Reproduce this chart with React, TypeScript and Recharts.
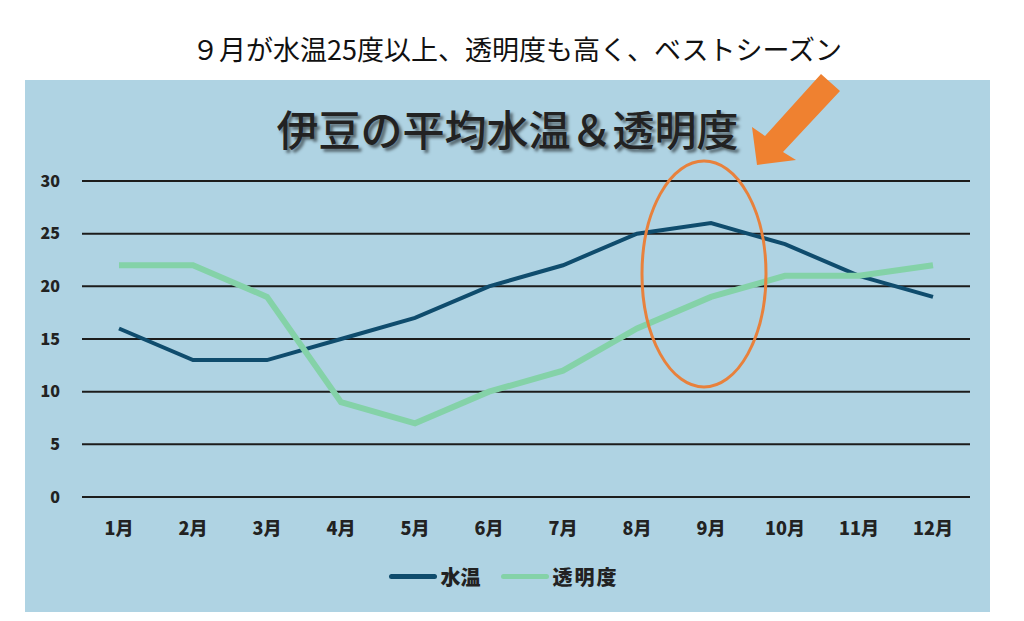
import React from "react";
import {
  LineChart,
  Line,
  XAxis,
  YAxis,
  CartesianGrid,
  Legend,
} from "recharts";

const months = ["1月", "2月", "3月", "4月", "5月", "6月", "7月", "8月", "9月", "10月", "11月", "12月"];
const waterTemp = [16, 13, 13, 15, 17, 20, 22, 25, 26, 24, 21, 19];
const clarity = [22, 22, 19, 9, 7, 10, 12, 16, 19, 21, 21, 22];
const yTicks = [0, 5, 10, 15, 20, 25, 30];

const data = months.map((m, i) => ({ month: m, 水温: waterTemp[i], 透明度: clarity[i] }));

const FONT = "'Noto Sans CJK JP', 'Noto Sans', sans-serif";
const BLUE = "#0f4c6d";
const GREEN = "#84d2a8";

const LegendContent = () => (
  <div
    style={{
      display: "flex",
      justifyContent: "center",
      alignItems: "center",
      height: 75,
      paddingTop: 4,
      paddingLeft: 12,
      boxSizing: "border-box",
      fontFamily: FONT,
      fontWeight: 900,
      fontSize: 20,
      color: "#222",
    }}
  >
    <span style={{ display: "inline-block", width: 48, height: 5, borderRadius: 3, background: BLUE }} />
    <span style={{ marginLeft: 4, marginRight: 20 }}>水温</span>
    <span style={{ display: "inline-block", width: 48, height: 5, borderRadius: 3, background: GREEN }} />
    <span style={{ marginLeft: 4, letterSpacing: 2 }}>透明度</span>
  </div>
);

export default function App() {
  return (
    <div
      style={{
        position: "absolute",
        left: 0,
        top: 0,
        width: 1024,
        height: 621,
        background: "#ffffff",
        overflow: "hidden",
        fontFamily: FONT,
      }}
    >
      <div
        style={{
          position: "absolute",
          left: 0,
          width: 1034,
          top: 31,
          textAlign: "center",
          fontSize: 27,
          lineHeight: "36px",
          color: "#111",
        }}
      >
        ９月が水温25度以上、透明度も高く、ベストシーズン
      </div>
      <div
        style={{
          position: "absolute",
          left: 25,
          top: 80,
          width: 965,
          height: 532,
          background: "#afd3e3",
        }}
      >
        <div
          style={{
            position: "absolute",
            left: 0,
            width: 965,
            top: 22,
            textAlign: "center",
            fontSize: 42,
            fontWeight: 500,
            lineHeight: "52px",
            color: "#222",
            textShadow: "3px 3px 3px rgba(0,0,0,0.5)",
          }}
        >
          伊豆の平均水温＆透明度
        </div>
        <LineChart
          width={965}
          height={532}
          data={data}
          margin={{ top: 101, right: 20, left: 0, bottom: 0 }}
        >
          <CartesianGrid vertical={false} stroke="#1c1c1c" strokeWidth={2} />
          <XAxis
            dataKey="month"
            axisLine={false}
            tickLine={false}
            tickSize={0}
            tickMargin={25}
            height={40}
            padding={{ left: 37, right: 37 }}
            tick={{ fill: "#222", fontSize: 18, fontWeight: 900, fontFamily: FONT }}
          />
          <YAxis
            domain={[0, 30]}
            ticks={yTicks}
            width={57}
            axisLine={false}
            tickLine={false}
            tickSize={0}
            tickMargin={22}
            tick={{ fill: "#222", fontSize: 16, fontWeight: 900, fontFamily: FONT }}
          />
          <Legend verticalAlign="bottom" height={75} content={<LegendContent />} />
          <Line
            type="linear"
            dataKey="水温"
            stroke={BLUE}
            strokeWidth={4}
            dot={false}
            isAnimationActive={false}
          />
          <Line
            type="linear"
            dataKey="透明度"
            stroke={GREEN}
            strokeWidth={6}
            dot={false}
            isAnimationActive={false}
          />
        </LineChart>
      </div>
      <svg
        width={1024}
        height={621}
        style={{ position: "absolute", left: 0, top: 0, pointerEvents: "none" }}
      >
        <ellipse cx={704} cy={274} rx={62} ry={113} fill="none" stroke="#e8813c" strokeWidth={3} />
        <polygon
          points="757,165 752,127 765,136 821,74 840,91 783,152 796,160"
          fill="#ef8130"
        />
      </svg>
    </div>
  );
}
